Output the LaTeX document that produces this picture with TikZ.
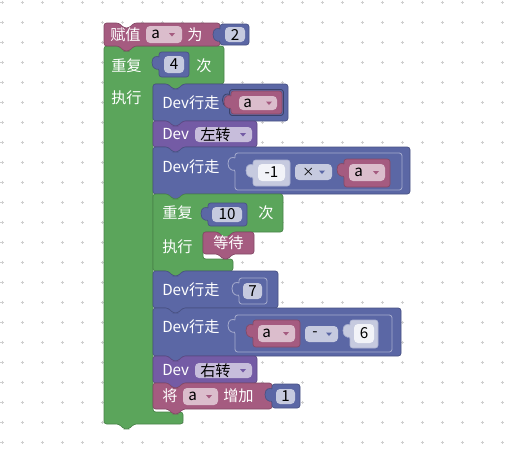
\documentclass[tikz,border=0pt]{standalone}
\usepackage{fontspec}
\setmainfont{Noto Sans CJK SC}
\usepackage{xcolor}
\usepackage{tikz}
\definecolor{varmag}{HTML}{A55B80}
\definecolor{loopgreen}{HTML}{5BA55B}
\definecolor{mathblue}{HTML}{5B67A5}
\definecolor{devpurple}{HTML}{745BA5}
\definecolor{gridgray}{HTML}{CFCFCF}
\newcommand{\blkfont}{\fontsize{11.4}{13}\selectfont}
\newcommand{\opfont}{\fontsize{9}{11}\selectfont}
\newcommand{\stmtblk}[5]{\path[#1,rounded corners=2] (#2,#3) -- ({#2+15},#3) -- ({#2+20},{#3+5}) -- ({#2+25},{#3+5}) -- ({#2+30},#3) -- (#4,#3) -- (#4,#5) -- ({#2+30},#5) -- ({#2+25},{#5+5}) -- ({#2+20},{#5+5}) -- ({#2+15},#5) -- (#2,#5) -- cycle;}
\newcommand{\valblk}[5]{\path[#1,rounded corners=2] ({#2},{#3+5}) -- (#2,#3) -- (#4,#3) -- (#4,#5) -- (#2,#5) -- ({#2},{#3+16}) [sharp corners] .. controls ({#2-2},{#3+17}) and ({#2-7},{#3+17}) .. ({#2-7},{#3+10.5}) .. controls ({#2-7},{#3+4}) and ({#2-2},{#3+4}) .. ({#2},{#3+5});}
\newcommand{\ddtri}[3]{\fill[#1] ({#2-3},{#3-1.5}) -- ({#2+3},{#3-1.5}) -- (#2,{#3+2}) -- cycle;}
\tikzset{
  varblk/.style={fill=varmag,draw=varmag!80!black,line width=0.5pt},
  loopblk/.style={fill=loopgreen,draw=loopgreen!80!black,line width=0.5pt},
  mathblk/.style={fill=mathblue,draw=mathblue!80!black,line width=0.5pt},
  innermath/.style={fill=mathblue,draw=mathblue!55!white,line width=0.6pt},
  devblk/.style={fill=devpurple,draw=devpurple!80!black,line width=0.5pt},
  shadowblk/.style={fill=mathblue!35!white,draw=mathblue!50!white,line width=0.5pt},
  socket/.style={draw=mathblue!65!black,line width=0.6pt},
  varfld/.style={fill=varmag!40!white,rounded corners=3},
  numfld/.style={fill=mathblue!35!white,rounded corners=3},
  devfld/.style={fill=devpurple!40!white,rounded corners=3},
  shadowfld/.style={fill=mathblue!8!white,rounded corners=3},
  opfld/.style={fill=mathblue!35!white,rounded corners=3},
  lbl/.style={text=white,anchor=west,inner sep=0pt,font=\blkfont},
  fldtxt/.style={text=black,inner sep=0pt,font=\blkfont},
  fldlbl/.style={fldtxt,anchor=west}
}
\begin{document}
\begin{tikzpicture}[x=0.75pt,y=-0.75pt]
  \useasboundingbox (0,0) rectangle (515,454);
  \fill[white] (0,0) rectangle (515,454);
  \foreach \gx in {2,22,...,502}
    \foreach \gy in {2,22,...,442}
      \draw[gridgray,line width=0.6pt] (\gx-1.5,\gy) -- (\gx+1.5,\gy) (\gx,\gy-1.5) -- (\gx,\gy+1.5);

  \path[loopblk,rounded corners=2] (104,46) -- (119,46) -- (124,51) -- (129,51) -- (134,46) -- (224,46) -- (224,84) -- (183,84) -- (178,89) -- (173,89) -- (168,84) -- (153,84) -- (153,412) -- (183,412) -- (183,424) -- (134,424) -- (129,429) -- (124,429) -- (119,424) -- (104,424) -- cycle;
  \node[lbl] (rep1) at (111,66) {重复};
  \valblk{mathblk}{159}{52}{189}{77}
  \fill[numfld] (164,56) rectangle (184,73);
  \node[fldtxt] (rep1n) at (174,64.5) {4};
  \node[lbl] (rep1ci) at (196,66) {次};
  \node[lbl] (do1) at (111,98) {执行};

  \stmtblk{varblk}{104}{23}{220}{46}
  \node[lbl] (setlbl) at (110,34.5) {赋值};
  \fill[varfld] (146,26) rectangle (182,43);
  \node[fldlbl] (setvar) at (151,34.5) {a};
  \ddtri{varmag}{172}{34.5}
  \node[lbl] (setto) at (187,34.5) {为};
  \valblk{mathblk}{220}{24}{249}{45}
  \fill[numfld] (225,27) rectangle (245,42);
  \node[fldtxt] (setval) at (235,34.5) {2};

  \stmtblk{mathblk}{153}{84}{288}{121}
  \node[lbl] (walk1) at (162,103) {Dev行走};
  \valblk{socket}{229.5}{89.5}{283.5}{115.5}
  \valblk{varblk}{231}{91}{282}{114}
  \fill[varfld] (239,96) rectangle (277,110);
  \node[fldlbl] (walk1v) at (243,103) {a};
  \ddtri{varmag}{269}{103}

  \stmtblk{devblk}{153}{121}{257}{147}
  \node[lbl] (turnl) at (162,134) {Dev};
  \fill[devfld] (195,127) rectangle (252,142);
  \node[fldlbl] (turnlv) at (200,134.5) {左转};
  \ddtri{devpurple}{243}{134.5}

  \stmtblk{mathblk}{153}{147}{410}{194}
  \node[lbl] (walk2) at (162,167) {Dev行走};
  \valblk{innermath}{235}{153}{402}{190}
  \valblk{shadowblk}{253}{160}{290}{186}
  \fill[shadowfld] (258,164) rectangle (285,181);
  \node[fldtxt] (walk2a) at (271.5,172.5) {-1};
  \fill[opfld] (295,164) rectangle (332,180);
  \node[fldlbl,font=\opfont] (walk2op) at (302,172) {×};
  \ddtri{mathblue}{322}{172}
  \valblk{varblk}{344}{159}{390}{187}
  \fill[varfld] (349,164) rectangle (385,181);
  \node[fldlbl] (walk2b) at (354,172.5) {a};
  \ddtri{varmag}{376}{172.5}

  \path[loopblk,rounded corners=2] (153,194) -- (168,194) -- (173,199) -- (178,199) -- (183,194) -- (283,194) -- (283,232) -- (233,232) -- (228,237) -- (223,237) -- (218,232) -- (203,232) -- (203,259) -- (233,259) -- (233,271) -- (183,271) -- (178,276) -- (173,276) -- (168,271) -- (153,271) -- cycle;
  \node[lbl] (rep2) at (162,213) {重复};
  \valblk{mathblk}{208}{203}{247}{226}
  \fill[numfld] (212,207) rectangle (242,222);
  \node[fldtxt] (rep2n) at (227,214.5) {10};
  \node[lbl] (rep2ci) at (258,213) {次};
  \node[lbl] (do2) at (162,247) {执行};
  \stmtblk{varblk}{203}{232}{254}{254}
  \node[lbl] (wait) at (213,243) {等待};

  \stmtblk{mathblk}{153}{271}{278}{308}
  \node[lbl] (walk3) at (162,290) {Dev行走};
  \valblk{innermath}{239}{278}{267}{304}
  \fill[numfld] (243,283) rectangle (262,299);
  \node[fldtxt] (walk3n) at (252.5,291) {7};

  \stmtblk{mathblk}{153}{308}{401}{356}
  \node[lbl] (walk4) at (162,327) {Dev行走};
  \valblk{innermath}{235}{315}{392}{352}
  \valblk{varblk}{253}{320}{300}{347}
  \fill[varfld] (258,325) rectangle (295,342);
  \node[fldlbl] (walk4a) at (262,333.5) {a};
  \ddtri{varmag}{286}{333.5}
  \fill[opfld] (305,326) rectangle (338,342);
  \node[fldlbl] (walk4op) at (312,334) {-};
  \ddtri{mathblue}{329}{334}
  \valblk{shadowblk}{350}{320}{378}{348}
  \fill[shadowfld] (354,324) rectangle (374,343);
  \node[fldtxt] (walk4b) at (364,333.5) {6};

  \stmtblk{devblk}{153}{356}{257}{383}
  \node[lbl] (turnr) at (162,370) {Dev};
  \fill[devfld] (195,363) rectangle (252,378);
  \node[fldlbl] (turnrv) at (200,370.5) {右转};
  \ddtri{devpurple}{243}{370.5}

  \stmtblk{varblk}{153}{383}{272}{409}
  \node[lbl] (incr) at (162,396) {将};
  \fill[varfld] (183,388) rectangle (218,405);
  \node[fldlbl] (incrv) at (188,396.5) {a};
  \ddtri{varmag}{209}{396.5}
  \node[lbl] (incrby) at (223,396) {增加};
  \valblk{mathblk}{272}{384}{300}{408}
  \fill[numfld] (276,389) rectangle (295,404);
  \node[fldtxt] (incrn) at (285.5,396.5) {1};
\end{tikzpicture}
\end{document}
